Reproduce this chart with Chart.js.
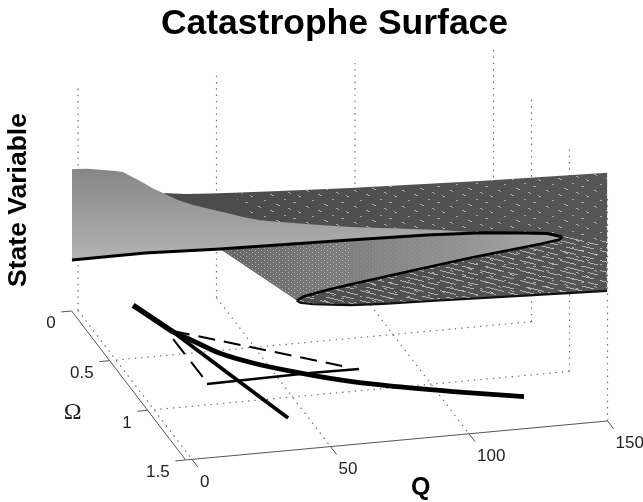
<!DOCTYPE html>
<html>
<head>
<meta charset="utf-8">
<title>Catastrophe Surface</title>
<style>
  html, body { margin: 0; padding: 0; background: #fff; }
  canvas { display: block; filter: blur(0.5px); }
</style>
<script src="https://cdn.jsdelivr.net/npm/chart.js@4/dist/chart.umd.min.js"></script>
</head>
<body>
<canvas id="chart" width="643" height="502"></canvas>
<script>
const qTicks = [0, 50, 100, 150];
const omegaTicks = [0, 0.5, 1, 1.5];
const qTickLabels = ["0", "50", "100", "150"];
const omegaTickLabels = ["0", "0.5", "1", "1.5"];

// surface outlines, read along the diagonal of the floor (omega = Q / 100)
const lightTopQ = [-1.7, 2.8, 7.1, 10.5, 12.7, 13.9, 17.6, 21, 24.1, 28.3, 32.6, 37.4, 42.2, 46.7, 51.6, 60.9, 68.6, 77.1, 88.4, 102.5, 114.7];
const lightTopS = [.631, .647, .656, .663, .666, .66, .641, .621, .609, .591, .583, .581, .579, .576, .578, .596, .612, .632, .664, .703, .731];
const foldFrontQ = [-1.7, 19, 40.2, 58.6, 77.1, 98.9, 114.7, 126.1, 132.9, 137.1];
const foldFrontS = [.221, .322, .41, .491, .573, .668, .731, .768, .788, .787];
const foldBackQ = [137.1, 136.5, 130.9, 111.9, 93.2, 77.1, 70.5, 63.7, 62];
const foldBackS = [.787, .773, .734, .611, .484, .373, .326, .273, .25];
const bottomEdgeQ = [62, 62.9, 66.6, 77.1, 86.4, 102.5, 125.2, 149.9];
const bottomEdgeS = [.25, .244, .249, .28, .316, .385, .481, .586];
const darkTopQ = [24.1, 30.3, 37.4, 44, 57.2, 77.1, 113.9, 149.9];
const darkTopS = [.609, .625, .651, .676, .728, .807, .961, 1.118];

// curves on the floor
const trunkQ = [19.9, 26.5];
const trunkOmega = [0, 0.286];
const upperBranchQ = [26.5, 29.6, 36.8, 45.4, 56.7, 70.4, 84.8, 105.5, 128.1];
const upperBranchOmega = [.286, .354, .527, .647, .763, .882, .977, 1.089, 1.199];
const lowerBranchQ = [26.5, 31.1, 35.7, 43.1];
const lowerBranchOmega = [.286, .539, .793, 1.194];
const dashTopQ = [26.7, 74.7];
const dashTopOmega = [.276, .752];
const dashSideQ = [24.7, 24.9];
const dashSideOmega = [.352, .765];
const thinLineQ = [24.5, 62.1, 79.6];
const thinLineOmega = [.804, .79, .795];

const axisStartQ = -2.3;
const boxHeight = 222;

// orthographic view of the MATLAB box
function project(q, omega, s) {
  return {
    x: 78 + 2.77 * q + 76 * omega,
    y: 310.4 - 0.256 * q + 99.33 * omega - boxHeight * s
  };
}

function outline(qs, ss) {
  return qs.map((q, i) => project(q, q / 100, ss[i]));
}

function floorCurve(qs, omegas) {
  return qs.map((q, i) => project(q, omegas[i], 0));
}

function dashTile(w, h, slope, spacing, runs, color) {
  const tile = document.createElement("canvas");
  tile.width = w;
  tile.height = h;
  const c = tile.getContext("2d");
  c.fillStyle = color;
  runs.forEach((row, k) => {
    row.forEach(([from, to]) => {
      for (let x = from; x < to; x++) {
        const y = Math.round(x * slope + k * spacing) % h;
        c.fillRect(x, y, 1, 1);
      }
    });
  });
  return c.createPattern(tile, "repeat");
}

const sparsePattern = dashTile(48, 16, 1 / 3, 8, [
  [[0, 3], [10, 13], [24, 26], [36, 40]],
  [[5, 8], [18, 21], [30, 34], [44, 46]]
], "rgba(205,205,205,0.7)");
const stripePattern = dashTile(40, 10, 1 / 4, 5, [
  [[0, 16], [22, 34]],
  [[6, 24], [28, 38]]
], "rgba(215,215,215,0.7)");
const dotPattern = dashTile(6, 4, 0, 2, [
  [[0, 1]],
  [[3, 4]]
], "rgba(225,225,225,0.6)");
const faintDotPattern = dashTile(6, 4, 0, 2, [
  [[0, 1]],
  [[3, 4]]
], "rgba(215,215,215,0.22)");

function gradient(context, from, to, stops) {
  const chart = context.chart;
  if (!chart.chartArea) return stops[0][1];
  const xs = chart.scales.x, ys = chart.scales.y;
  const g = chart.ctx.createLinearGradient(
    xs.getPixelForValue(from.x), ys.getPixelForValue(from.y),
    xs.getPixelForValue(to.x), ys.getPixelForValue(to.y)
  );
  stops.forEach(([at, color]) => g.addColorStop(at, color));
  return g;
}

function shape(points, backgroundColor) {
  return { data: points, backgroundColor, fill: "shape", borderWidth: 0, pointRadius: 0, showLine: true, clip: false };
}

function stroke(points, borderColor, borderWidth, extra) {
  return Object.assign({ data: points, borderColor, borderWidth, fill: false, pointRadius: 0, showLine: true, clip: false }, extra);
}

function dotted(points) {
  return stroke(points, "#6e6e6e", 1.2, { borderDash: [1.4, 4.9] });
}

const darkPoints = outline(darkTopQ, darkTopS)
  .concat(outline(bottomEdgeQ, bottomEdgeS).reverse());
const sparsePoints = outline(darkTopQ.slice(3), darkTopS.slice(3))
  .concat(outline(bottomEdgeQ, bottomEdgeS).reverse());
const mediumPoints = outline(foldFrontQ.slice(2), foldFrontS.slice(2))
  .concat(outline(foldBackQ, foldBackS));
const lightPoints = outline(lightTopQ, lightTopS)
  .concat(outline(foldFrontQ, foldFrontS).slice(0, 7).reverse());
const stripePoints = outline(foldBackQ, foldBackS)
  .concat(outline(bottomEdgeQ, bottomEdgeS))
  .concat([project(149.9, 1.499, 0.81)]);
const dotPoints = outline(foldFrontQ.slice(2, 5), foldFrontS.slice(2, 5))
  .concat(outline(foldBackQ.slice(5), foldBackS.slice(5)));
const faintDotPoints = outline(foldFrontQ.slice(4, 7), foldFrontS.slice(4, 7))
  .concat(outline(foldBackQ.slice(3, 6), foldBackS.slice(3, 6)));

const gridSets = [];
qTicks.forEach(q => {
  gridSets.push(dotted([project(q, 0, 0), project(q, 0, 1)]));
  if (q < 150) gridSets.push(dotted([project(q, 0, 0), project(q, 1.5, 0)]));
});
omegaTicks.slice(1).forEach(w => {
  gridSets.push(dotted([project(150, w, 0), project(150, w, 1)]));
  if (w < 1.5) gridSets.push(dotted([project(0, w, 0), project(150, w, 0)]));
});

const axisSets = [
  stroke([project(axisStartQ, 0, 0), project(axisStartQ, 1.5, 0)], "#555", 1),
  stroke([project(axisStartQ, 1.5, 0), project(150, 1.5, 0)], "#555", 1)
];
omegaTicks.forEach(w => {
  axisSets.push(stroke([project(axisStartQ, w, 0), project(axisStartQ - 3.7, w, 0)], "#555", 1));
});
qTicks.forEach(q => {
  axisSets.push(stroke([project(q, 1.5, 0), project(q, 1.58, 0)], "#555", 1));
});

// later in this list is painted later
const layers = [
  ...gridSets,
  ...axisSets,
  shape(darkPoints, ctx => gradient(ctx, project(24, 0.24, 0.6), project(150, 1.5, 0.6), [[0, "#4a4a4a"], [1, "#565656"]])),
  shape(sparsePoints, sparsePattern),
  shape(stripePoints, stripePattern),
  shape(mediumPoints, ctx => gradient(ctx, project(40, 0.4, 0.41), project(137, 1.37, 0.79), [[0, "#646464"], [0.35, "#7e7e7e"], [0.7, "#929292"], [1, "#ababab"]])),
  shape(dotPoints, dotPattern),
  shape(faintDotPoints, faintDotPattern),
  shape(lightPoints, ctx => gradient(ctx, project(0, 0, 0.64), project(0, 0, 0.22), [[0, "#868686"], [1, "#b4b4b4"]])),
  stroke(outline(foldFrontQ, foldFrontS), "#000", 3),
  stroke(outline(foldBackQ, foldBackS), "#000", 2.6),
  stroke(outline(bottomEdgeQ, bottomEdgeS), "#111", 2.2),
  stroke(floorCurve(dashTopQ, dashTopOmega), "#000", 2, { borderDash: [17, 9] }),
  stroke(floorCurve(dashSideQ, dashSideOmega), "#000", 2, { borderDash: [19, 10] }),
  stroke(floorCurve(thinLineQ, thinLineOmega), "#000", 2.5),
  stroke(floorCurve(lowerBranchQ, lowerBranchOmega), "#000", 3.8),
  stroke(floorCurve(trunkQ, trunkOmega), "#000", 5.5),
  stroke(floorCurve(upperBranchQ, upperBranchOmega), "#000", 4.8, { tension: 0.3 })
];
layers.forEach((set, i) => { set.order = layers.length - i; });

const labelsPlugin = {
  id: "boxLabels",
  afterDraw(chart) {
    const c = chart.ctx, xs = chart.scales.x, ys = chart.scales.y;
    const at = p => ({ x: xs.getPixelForValue(p.x), y: ys.getPixelForValue(p.y) });
    c.save();
    c.fillStyle = "#222";
    c.textBaseline = "middle";
    c.font = '17px "Liberation Sans"';
    c.textAlign = "right";
    omegaTickLabels.forEach((t, i) => {
      const p = at(project(axisStartQ, omegaTicks[i], 0));
      c.fillText(t, p.x - 16, p.y + 12.5);
    });
    c.textAlign = "left";
    qTickLabels.forEach((t, i) => {
      const p = at(project(qTicks[i], 1.5, 0));
      c.fillText(t, p.x + 8, p.y + 22.5);
    });

    c.textAlign = "center";
    c.font = '24px "Liberation Serif"';
    const om = at(project(axisStartQ - 9, 1, 0));
    c.fillText("Ω", om.x - 50, om.y);

    c.fillStyle = "#000";
    c.font = 'bold 25px "Liberation Sans"';
    const ql = at(project(82.6, 1.5, -0.15));
    c.fillText("Q", ql.x, ql.y + 17);

    c.font = 'bold 26.5px "Liberation Sans"';
    const sl = at(project(axisStartQ, 0, 0.5));
    c.translate(sl.x - 52.5, sl.y);
    c.rotate(-Math.PI / 2);
    c.fillText("State Variable", 0, 0);
    c.restore();
  }
};

new Chart(document.getElementById("chart"), {
  type: "scatter",
  data: { datasets: layers },
  options: {
    responsive: false,
    animation: false,
    layout: { padding: { left: 26 } },
    plugins: {
      legend: { display: false },
      tooltip: { enabled: false },
      title: {
        display: true,
        text: "Catastrophe Surface",
        fullSize: false,
        color: "#000",
        padding: { top: 3, bottom: 0 },
        font: { family: '"Liberation Sans"', size: 35.5, weight: "bold", lineHeight: 1.2 }
      }
    },
    scales: {
      x: { type: "linear", display: false, min: 26, max: 643 },
      y: { type: "linear", display: false, reverse: true, min: 45.6, max: 502 }
    }
  },
  plugins: [labelsPlugin]
});
</script>
</body>
</html>
